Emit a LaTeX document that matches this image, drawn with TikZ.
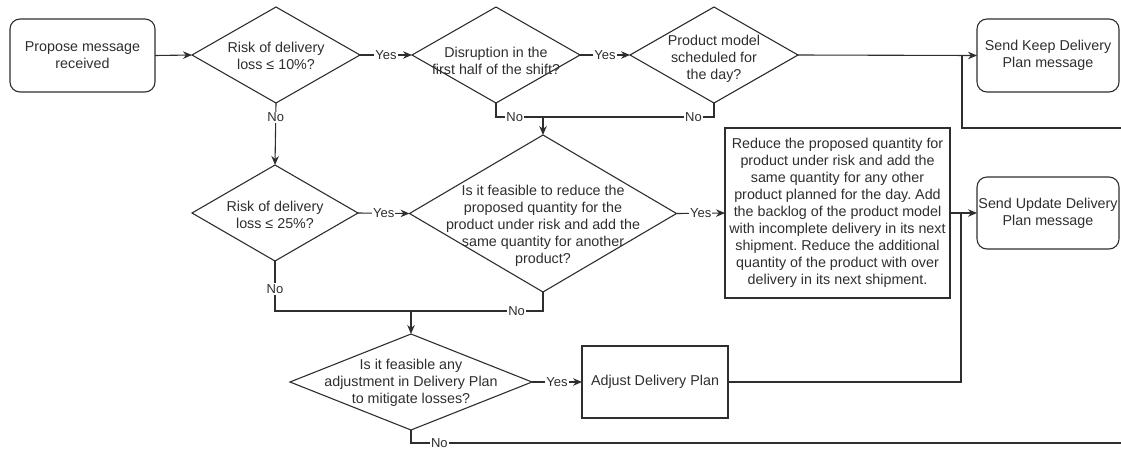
\documentclass[tikz,border=0pt]{standalone}
\usepackage{fontspec}
\setmainfont{Liberation Sans}
\usetikzlibrary{shapes.geometric,arrows.meta}
\definecolor{ink}{HTML}{2E2E2E}
\frenchspacing
\begin{document}
\begin{tikzpicture}[x=1pt,y=-1pt,
  every node/.style={text=ink},
  base/.style={draw=ink, line width=1.1pt, inner sep=0pt, outer sep=0pt},
  txt/.style={align=center, inner sep=0pt, font=\fontsize{14.3}{17}\selectfont},
  rbox/.style={base, txt, rounded corners=10pt},
  pbox/.style={base, txt},
  dia/.style={base, diamond},
  lab/.style={fill=white, inner sep=1pt, font=\fontsize{13}{15}\selectfont},
  line/.style={draw=ink, line width=1.1pt},
  arr/.style={line, -{Stealth[length=9pt,width=7.5pt]}}
]
\useasboundingbox (0,0) rectangle (1121,448);

% ---- first row ----
\node[rbox, minimum width=145, minimum height=73] (start) at (82.5,55.5)
  {Propose message\\received};
\node[dia, minimum width=168, minimum height=96] (d1) at (276,55) {};
\node[txt] at (276,56) {Risk of delivery\\loss ≤ 10\%?};
\node[dia, minimum width=168, minimum height=96] (d2) at (496,55) {};
\node[txt] at (496,61) {Disruption in the\\first half of the shift?};
\node[dia, minimum width=168, minimum height=96] (d3) at (714,55) {};
\node[txt] at (714,59) {Product model\\scheduled for\\the day?};
\node[rbox, minimum width=142, minimum height=73] (keep) at (1048,55.5)
  {Send Keep Delivery\\Plan message};

% ---- second row ----
\node[dia, minimum width=166, minimum height=96] (d5) at (275,213) {};
\node[txt] at (275,215) {Risk of delivery\\loss ≤ 25\%?};
\node[dia, minimum width=267, minimum height=157] (d4) at (543,213.5) {};
\node[txt] at (543,226) {Is it feasible to reduce the\\proposed quantity for the\\product under risk and add the\\same quantity for another\\product?};
\node[pbox, minimum width=225, minimum height=170] (reduce) at (837.5,213)
  {Reduce the proposed quantity for\\product under risk and add the\\same quantity for any other\\product planned for the day. Add\\the backlog of the product model\\with incomplete delivery in its next\\shipment. Reduce the additional\\quantity of the product with over\\delivery in its next shipment.};
\node[rbox, minimum width=142, minimum height=72] (update) at (1048,213)
  {Send Update Delivery\\Plan message};

% ---- third row ----
\node[dia, minimum width=242, minimum height=96] (d6) at (411,382) {};
\node[txt] at (411,383) {Is it feasible any\\adjustment in Delivery Plan\\to mitigate losses?};
\node[pbox, minimum width=146, minimum height=72] (adjust) at (655,382)
  {Adjust Delivery Plan};

% ---- junctions and loose ends ----
\coordinate (m1) at (543,117);
\coordinate (m2) at (411,311);
\coordinate (j1) at (962,55);
\coordinate (j2) at (961,213);
\coordinate (e1) at (1121,128);
\coordinate (e3) at (1121,443);

% ---- connectors ----
\draw[arr] (start.east) -- (d1.west);
\draw[arr] (d1.east) -- node[lab]{Yes} (d2.west);
\draw[arr] (d2.east) -- node[lab]{Yes} (d3.west);
\draw[arr] (d3.east) -- (keep.west);
\draw[line] (e1) -| (j1);

\draw[arr] (d1.south) -- node[lab,pos=0.23]{No} (d5.north);
\draw[line] (d2.south) |- node[lab,pos=0.7]{No} (m1);
\draw[line] (d3.south) |- node[lab,pos=0.56]{No} (m1);
\draw[arr] (m1) -- (d4.north);

\draw[arr] (d5.east) -- node[lab]{Yes} (d4.west);
\draw[arr] (d4.east) -- node[lab]{Yes} (reduce.west);
\draw[arr] (reduce.east) -- (update.west);
\draw[line] (adjust.east) -| (j2);

\draw[line] (d5.south) |- node[lab,pos=0.28]{No} (m2);
\draw[line] (d4.south) |- node[lab,pos=0.6]{No} (m2);
\draw[arr] (m2) -- (d6.north);

\draw[arr] (d6.east) -- node[lab]{Yes} (adjust.west);
\draw[line] (d6.south) |- node[lab,pos=0.52]{No} (e3);
\end{tikzpicture}
\end{document}
